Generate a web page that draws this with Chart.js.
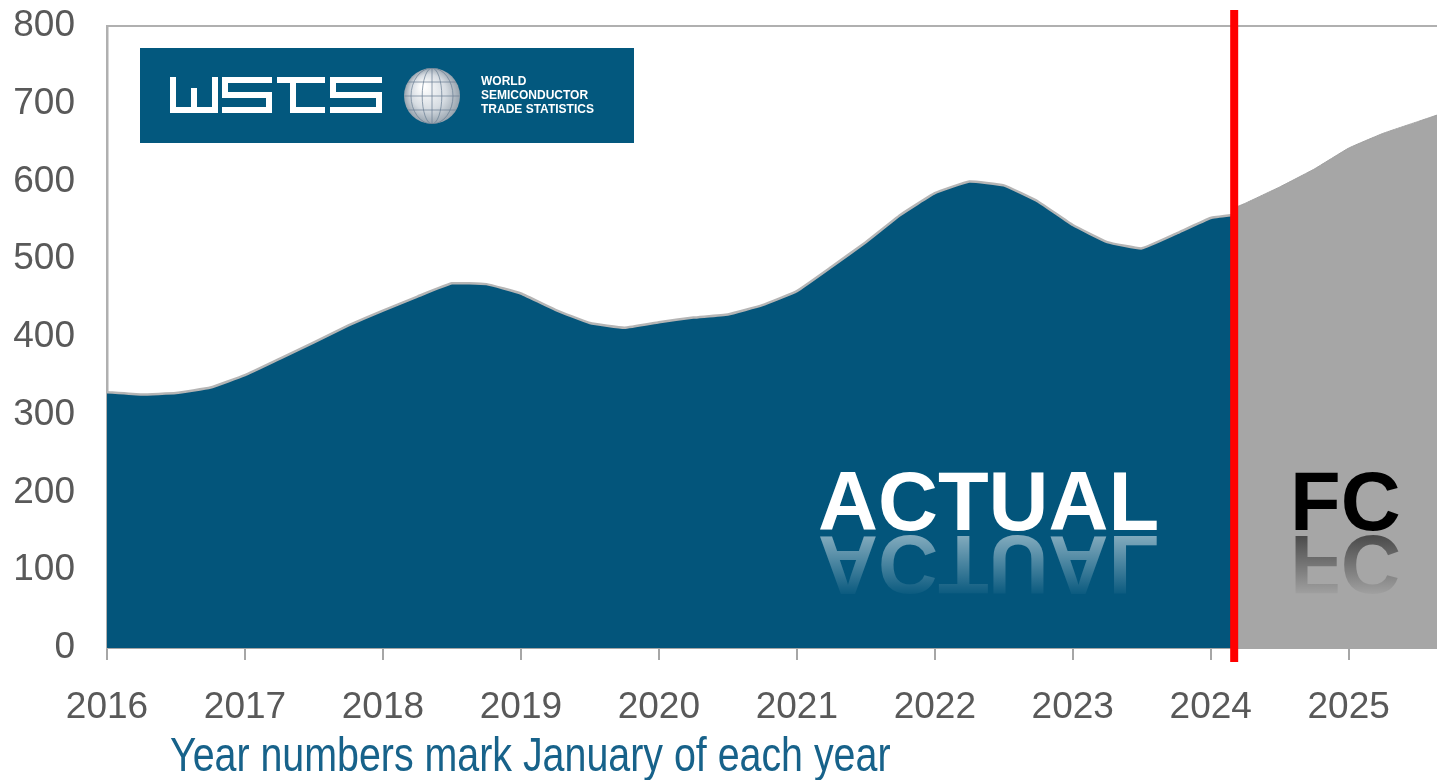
<!DOCTYPE html>
<html>
<head>
<meta charset="utf-8">
<title>WSTS market</title>
<script src="https://cdn.jsdelivr.net/npm/chart.js@4.4.1/dist/chart.umd.min.js"></script>
<style>
  html, body { margin: 0; padding: 0; background: #fff; }
  #wrap { width: 1437px; height: 780px; }
</style>
</head>
<body>
<div id="wrap"><canvas id="marketChart"></canvas></div>
<script>
// 季度数据，x 为小数年份（1月/4月/7月/10月）
const actualDates = [
  2016.0, 2016.25, 2016.5, 2016.75,
  2017.0, 2017.25, 2017.5, 2017.75,
  2018.0, 2018.25, 2018.5, 2018.75,
  2019.0, 2019.25, 2019.5, 2019.75,
  2020.0, 2020.25, 2020.5, 2020.75,
  2021.0, 2021.25, 2021.5, 2021.75,
  2022.0, 2022.25, 2022.5, 2022.75,
  2023.0, 2023.25, 2023.5, 2023.75,
  2024.0, 2024.17
];
const actualValues = [
  329, 326, 328, 335,
  351, 372, 393, 415,
  434, 452, 469, 468,
  456, 435, 418, 412,
  419, 425, 429, 441,
  459, 490, 522, 557,
  585, 600, 595, 574,
  544, 522, 514, 533,
  553, 557
];
const forecastDates = [2024.17, 2024.25, 2024.5, 2024.75, 2025.0, 2025.25, 2025.5, 2025.75];
const forecastValues = [566, 572, 593, 616, 643, 662, 677, 692];
const yearTicks = [2016, 2017, 2018, 2019, 2020, 2021, 2022, 2023, 2024, 2025];
const valueTicks = [0, 100, 200, 300, 400, 500, 600, 700, 800];
const splitDate = 2024.17;
const subtitle = 'Year numbers mark January of each year';

function toPoints(xs, ys) {
  return xs.map((x, i) => ({ x: x, y: ys[i] }));
}

function drawLogo(ctx) {
  // 蓝色底框
  ctx.fillStyle = '#03587E';
  ctx.fillRect(140, 48, 494, 95);

  // WSTS 方块字
  ctx.strokeStyle = '#FFFFFF';
  ctx.lineWidth = 6;
  ctx.lineCap = 'butt';
  ctx.lineJoin = 'miter';
  const paths = [
    [[173, 77], [173, 110], [215, 110], [215, 77]],
    [[194, 88], [194, 110]],
    [[272, 80], [225, 80], [225, 95], [269, 95], [269, 110], [222, 110]],
    [[277, 80], [325, 80]],
    [[293, 80], [293, 110], [325, 110]],
    [[382, 80], [333, 80], [333, 95], [379, 95], [379, 110], [330, 110]]
  ];
  paths.forEach((p) => {
    ctx.beginPath();
    ctx.moveTo(p[0][0], p[0][1]);
    for (let i = 1; i < p.length; i++) ctx.lineTo(p[i][0], p[i][1]);
    ctx.stroke();
  });

  // 地球
  const cx = 432, cy = 96, r = 28;
  const g = ctx.createRadialGradient(cx - 9, cy - 10, 2, cx, cy, r);
  g.addColorStop(0, '#FFFFFF');
  g.addColorStop(0.6, '#D6DCE2');
  g.addColorStop(1, '#97A3AE');
  ctx.fillStyle = g;
  ctx.beginPath();
  ctx.arc(cx, cy, r, 0, Math.PI * 2);
  ctx.fill();
  ctx.save();
  ctx.beginPath();
  ctx.arc(cx, cy, r, 0, Math.PI * 2);
  ctx.clip();
  ctx.strokeStyle = 'rgba(110,130,150,0.75)';
  ctx.lineWidth = 1;
  [0.35, 0.75].forEach((f) => {
    ctx.beginPath();
    ctx.ellipse(cx, cy, r * f, r, 0, 0, Math.PI * 2);
    ctx.stroke();
  });
  ctx.beginPath();
  ctx.moveTo(cx, cy - r);
  ctx.lineTo(cx, cy + r);
  [-0.5, 0, 0.5].forEach((f) => {
    ctx.moveTo(cx - r, cy + f * r);
    ctx.lineTo(cx + r, cy + f * r);
  });
  ctx.stroke();
  ctx.restore();

  // 右侧小字
  ctx.fillStyle = '#FFFFFF';
  ctx.font = 'bold 12px "Liberation Sans", Arial, sans-serif';
  ctx.textAlign = 'left';
  ctx.textBaseline = 'middle';
  ctx.fillText('WORLD', 481, 82);
  ctx.fillText('SEMICONDUCTOR', 481, 96);
  ctx.fillText('TRADE STATISTICS', 481, 110);
}

function drawReflectedText(ctx, text, x, baseline, rgb, alpha) {
  ctx.font = 'bold 83px "Liberation Sans", Arial, sans-serif';
  ctx.textAlign = 'left';
  ctx.textBaseline = 'alphabetic';
  ctx.fillStyle = 'rgb(' + rgb + ')';
  ctx.fillText(text, x, baseline);
  // 倒影
  ctx.save();
  ctx.translate(0, 2 * (baseline + 3));
  ctx.scale(1, -1);
  const grad = ctx.createLinearGradient(0, baseline, 0, baseline - 62);
  grad.addColorStop(0, 'rgba(' + rgb + ',' + alpha + ')');
  grad.addColorStop(1, 'rgba(' + rgb + ',0)');
  ctx.fillStyle = grad;
  ctx.fillText(text, x, baseline);
  ctx.restore();
}

const decorPlugin = {
  id: 'decor',
  afterDraw(chart) {
    const ctx = chart.ctx;
    const area = chart.chartArea;
    ctx.save();
    // 顶部边框
    ctx.strokeStyle = '#B0B0B0';
    ctx.lineWidth = 2;
    ctx.beginPath();
    ctx.moveTo(area.left, area.top);
    ctx.lineTo(area.right, area.top);
    ctx.stroke();

    drawLogo(ctx);
    drawReflectedText(ctx, 'ACTUAL', 818, 530, '255,255,255', 0.5);
    drawReflectedText(ctx, 'FC', 1290, 530, '0,0,0', 0.55);

    // 实际/预测分界线
    const sx = chart.scales.x.getPixelForValue(splitDate);
    ctx.strokeStyle = '#FF0000';
    ctx.lineWidth = 8;
    ctx.beginPath();
    ctx.moveTo(sx, 10);
    ctx.lineTo(sx, area.bottom + 14);
    ctx.stroke();

    // 横轴说明
    ctx.save();
    ctx.translate(170, 758);
    ctx.scale(0.82, 1);
    ctx.font = '48px "Liberation Sans", Arial, sans-serif';
    ctx.fillStyle = '#17628A';
    ctx.textAlign = 'left';
    ctx.textBaseline = 'middle';
    ctx.fillText(subtitle, 0, 0);
    ctx.restore();
    ctx.restore();
  }
};

function renderChart() {
  new Chart(document.getElementById('marketChart'), {
    type: 'line',
    data: {
      datasets: [
        {
          label: 'Actual',
          data: toPoints(actualDates, actualValues),
          fill: 'origin',
          backgroundColor: '#03557B',
          borderColor: '#B5B5B5',
          borderWidth: 2.5,
          pointRadius: 0,
          tension: 0.1,
        },
        {
          label: 'Forecast',
          data: toPoints(forecastDates, forecastValues),
          fill: 'origin',
          backgroundColor: '#A6A6A6',
          borderColor: '#A0A0A0',
          borderWidth: 1,
          pointRadius: 0,
          tension: 0.1,
        },
      ],
    },
    options: {
      responsive: true,
      maintainAspectRatio: false,
      animation: false,
      layout: { padding: { top: 26, right: 0, left: 0, bottom: 0 } },
      plugins: {
        legend: { display: false },
        tooltip: { enabled: false },
      },
      scales: {
        x: {
          type: 'linear',
          min: 2016,
          max: 2025.64,
          afterBuildTicks: (scale) => {
            scale.ticks = yearTicks.map((v) => ({ value: v }));
          },
          afterFit: (scale) => {
            scale.height = 132;
          },
          ticks: {
            color: '#595959',
            font: { family: '"Liberation Sans", Arial', size: 37 },
            padding: 26,
            maxRotation: 0,
            autoSkip: false,
            callback: (v) => String(v),
          },
          grid: {
            drawOnChartArea: false,
            tickLength: 12,
            color: '#A6A6A6',
            lineWidth: 2,
          },
          border: { color: '#A6A6A6', width: 2 },
        },
        y: {
          min: 0,
          max: 800,
          afterBuildTicks: (scale) => {
            scale.ticks = valueTicks.map((v) => ({ value: v }));
          },
          afterFit: (scale) => {
            scale.width = 107;
            scale.paddingTop = 0;
            scale.paddingBottom = 0;
          },
          ticks: {
            color: '#595959',
            font: { family: '"Liberation Sans", Arial', size: 37 },
            padding: 24,
          },
          grid: { display: false },
          border: { display: true, color: '#B0B0B0', width: 2.5 },
        },
      },
    },
    plugins: [decorPlugin],
  });
}

window.addEventListener('DOMContentLoaded', renderChart);
</script>
</body>
</html>
